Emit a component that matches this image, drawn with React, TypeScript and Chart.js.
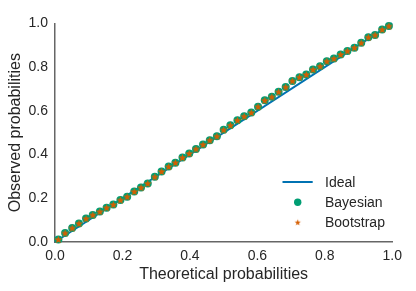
import React, { useEffect, useRef } from "react";
import { Chart, registerables } from "chart.js";

Chart.register(...registerables);

const xValues = [
  0.01, 0.03, 0.051, 0.071, 0.092, 0.112, 0.133, 0.153, 0.173, 0.194,
  0.214, 0.235, 0.255, 0.275, 0.296, 0.316, 0.337, 0.357, 0.378, 0.398,
  0.418, 0.439, 0.459, 0.48, 0.5, 0.52, 0.541, 0.561, 0.582, 0.602,
  0.622, 0.643, 0.663, 0.684, 0.704, 0.725, 0.745, 0.765, 0.786, 0.806,
  0.827, 0.847, 0.867, 0.888, 0.908, 0.929, 0.949, 0.97, 0.99,
];

const bayesianValues = [
  0.012, 0.041, 0.064, 0.085, 0.107, 0.124, 0.139, 0.157, 0.171, 0.192,
  0.207, 0.231, 0.249, 0.268, 0.298, 0.323, 0.345, 0.363, 0.386, 0.405,
  0.426, 0.446, 0.466, 0.484, 0.513, 0.534, 0.557, 0.575, 0.592, 0.619,
  0.648, 0.664, 0.687, 0.709, 0.737, 0.754, 0.766, 0.789, 0.804, 0.827,
  0.839, 0.858, 0.874, 0.889, 0.911, 0.937, 0.947, 0.972, 0.988,
];

const bootstrapValues = [
  0.012, 0.041, 0.064, 0.085, 0.107, 0.124, 0.139, 0.157, 0.171, 0.192,
  0.207, 0.231, 0.249, 0.268, 0.298, 0.323, 0.345, 0.363, 0.386, 0.405,
  0.426, 0.446, 0.466, 0.484, 0.513, 0.534, 0.557, 0.575, 0.592, 0.619,
  0.648, 0.664, 0.687, 0.709, 0.737, 0.754, 0.766, 0.789, 0.804, 0.827,
  0.839, 0.858, 0.874, 0.889, 0.911, 0.937, 0.947, 0.972, 0.988,
];

const idealX = [0, 1];
const idealY = [0, 1];

const tickValues = [0, 0.2, 0.4, 0.6, 0.8, 1.0];
const seriesNames = ["Ideal", "Bayesian", "Bootstrap"];
const xTitle = "Theoretical probabilities";
const yTitle = "Observed probabilities";

const BLUE = "#0072B2";
const GREEN = "#009E73";
const ORANGE = "#D55E00";
const TEXT = "#262626";
const AXIS = "#666666";
const FONT = "'Liberation Sans', Arial, sans-serif";

function makeStar(outer: number, inner: number, color: string) {
  const size = Math.ceil(outer * 2 + 2);
  const c = document.createElement("canvas");
  c.width = size;
  c.height = size;
  const ctx = c.getContext("2d")!;
  const cx = size / 2;
  const cy = size / 2 + outer * 0.1;
  ctx.beginPath();
  for (let i = 0; i < 10; i++) {
    const r = i % 2 === 0 ? outer : inner;
    const a = -Math.PI / 2 + (i * Math.PI) / 5;
    const px = cx + r * Math.cos(a);
    const py = cy + r * Math.sin(a);
    if (i === 0) ctx.moveTo(px, py);
    else ctx.lineTo(px, py);
  }
  ctx.closePath();
  ctx.fillStyle = color;
  ctx.fill();
  return c;
}

export default function App() {
  const ref = useRef<HTMLCanvasElement | null>(null);

  useEffect(() => {
    if (!ref.current) return;
    const star = makeStar(4.2, 1.8, ORANGE);
    const legendStar = makeStar(3.2, 1.35, ORANGE);

    const legendPlugin = {
      id: "customLegend",
      afterDraw(chart: any) {
        const ctx = chart.ctx as CanvasRenderingContext2D;
        ctx.save();
        const ox = -8;
        const oy = -8;
        const textX = 325 + ox;
        const symX = 297.7 + ox;
        const rows = [182 + oy, 202.3 + oy, 222.3 + oy];
        ctx.font = `14px ${FONT}`;
        ctx.textBaseline = "middle";
        ctx.textAlign = "left";
        ctx.strokeStyle = BLUE;
        ctx.lineWidth = 2;
        ctx.beginPath();
        ctx.moveTo(282.5 + ox, rows[0]);
        ctx.lineTo(312.7 + ox, rows[0]);
        ctx.stroke();
        ctx.fillStyle = GREEN;
        ctx.beginPath();
        ctx.arc(symX, rows[1], 3.7, 0, Math.PI * 2);
        ctx.fill();
        ctx.drawImage(legendStar, symX - legendStar.width / 2, rows[2] - legendStar.height / 2);
        ctx.fillStyle = TEXT;
        seriesNames.forEach((n, i) => ctx.fillText(n, textX, rows[i] + 1));
        ctx.restore();
      },
    };

    const chart = new Chart(ref.current, {
      type: "scatter",
      data: {
        datasets: [
          {
            label: seriesNames[0],
            type: "line",
            data: idealX.map((x, i) => ({ x, y: idealY[i] })),
            borderColor: BLUE,
            borderWidth: 2,
            pointRadius: 0,
            fill: false,
            order: 3,
            clip: false,
          } as any,
          {
            label: seriesNames[1],
            data: xValues.map((x, i) => ({ x, y: bayesianValues[i] })),
            backgroundColor: GREEN,
            borderColor: GREEN,
            borderWidth: 0,
            pointRadius: 4,
            order: 2,
            clip: false,
          },
          {
            label: seriesNames[2],
            data: xValues.map((x, i) => ({ x, y: bootstrapValues[i] })),
            pointStyle: star as any,
            backgroundColor: ORANGE,
            borderColor: ORANGE,
            pointRadius: 4,
            order: 1,
            clip: false,
          },
        ],
      },
      options: {
        animation: false,
        responsive: true,
        maintainAspectRatio: false,
        layout: { padding: { top: 6, right: 10, left: 0, bottom: 0 } },
        plugins: {
          legend: { display: false },
          tooltip: { enabled: false },
        },
        scales: {
          x: {
            type: "linear",
            min: 0,
            max: 1,
            afterBuildTicks: (s: any) => {
              s.ticks = tickValues.map((v) => ({ value: v }));
            },
            afterFit: (s: any) => {
              s.height = 41;
            },
            grid: { display: false, drawTicks: false },
            border: { display: true, color: AXIS, width: 1.5 },
            ticks: {
              padding: 6,
              color: TEXT,
              font: { family: FONT, size: 14 },
              maxRotation: 0,
              callback: (v: any) => Number(v).toFixed(1),
            },
            title: {
              display: true,
              text: xTitle,
              color: TEXT,
              font: { family: FONT, size: 16, lineHeight: 1 },
              padding: { top: 0, bottom: 0 },
            },
          },
          y: {
            type: "linear",
            min: 0,
            max: 1,
            afterBuildTicks: (s: any) => {
              s.ticks = tickValues.map((v) => ({ value: v }));
            },
            afterFit: (s: any) => {
              s.width = 47;
            },
            grid: { display: false, drawTicks: false },
            border: { display: true, color: AXIS, width: 1.5 },
            ticks: {
              padding: 7,
              color: TEXT,
              font: { family: FONT, size: 14 },
              callback: (v: any) => Number(v).toFixed(1),
            },
            title: {
              display: true,
              text: yTitle,
              color: TEXT,
              font: { family: FONT, size: 16, lineHeight: 0.9 },
              padding: { top: 0, bottom: 0 },
            },
          },
        },
      },
      plugins: [legendPlugin],
    });
    return () => chart.destroy();
  }, []);

  return (
    <div style={{ width: 400, height: 275, position: "relative" }}>
      <canvas ref={ref} />
    </div>
  );
}
